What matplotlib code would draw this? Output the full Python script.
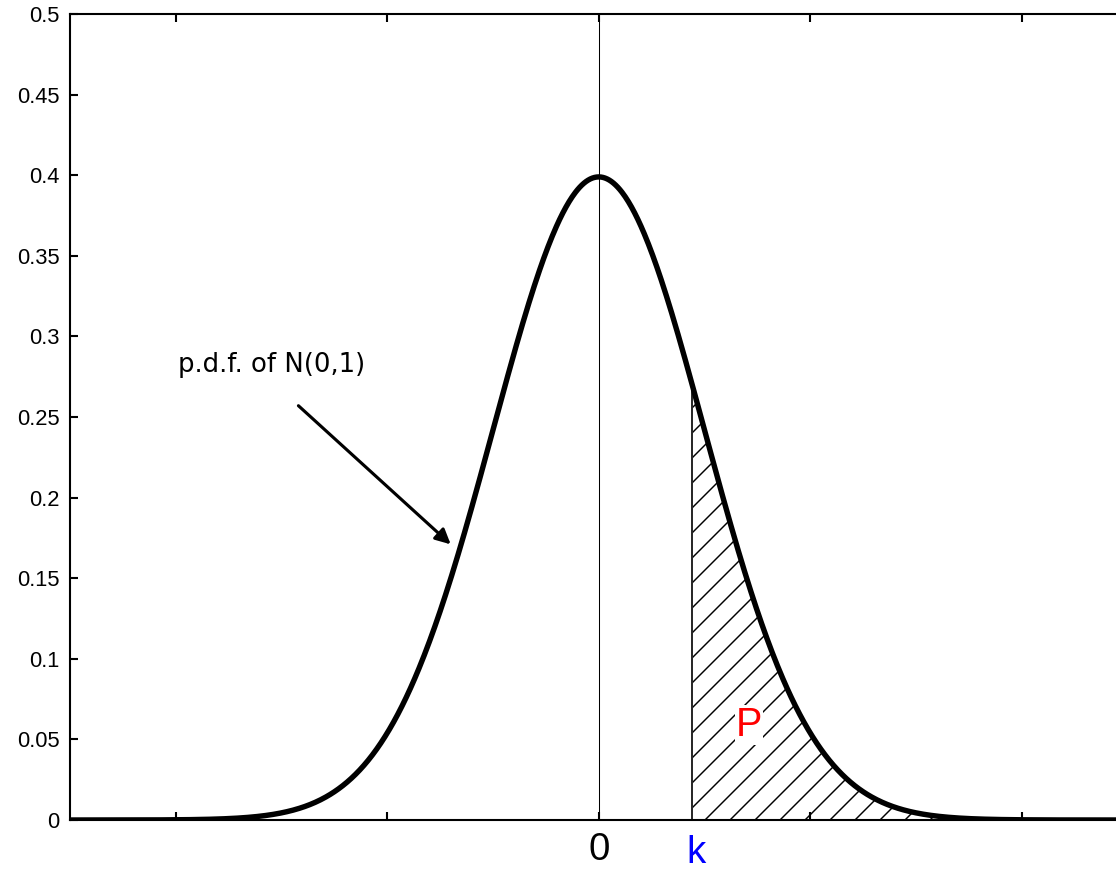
import numpy as np
import matplotlib
matplotlib.use("Agg")
import matplotlib.pyplot as plt
from matplotlib.transforms import blended_transform_factory

# distribution and marked point
mu = 0.0
sigma = 1.0
k = 0.88
x_range = (-5.0, 5.0)

yticks = [0, 0.05, 0.1, 0.15, 0.2, 0.25, 0.3, 0.35, 0.4, 0.45, 0.5]
ytick_labels = ["0", "0.05", "0.1", "0.15", "0.2", "0.25", "0.3", "0.35", "0.4", "0.45", "0.5"]
xticks = [-4, -2, 0, 2, 4]
xtick_labels = ["", "", "0", "", ""]

curve_label = "p.d.f. of N(0,1)"
label_xy = (-3.98, 0.274)
arrow_tail = (-2.84, 0.257)
arrow_head = (-1.40, 0.171)
p_label_xy = (1.42, 0.059)

plt.rcParams["font.family"] = ["Liberation Sans", "DejaVu Sans"]
plt.rcParams["hatch.linewidth"] = 0.7

x = np.linspace(x_range[0], x_range[1], 1001)
pdf = np.exp(-0.5 * ((x - mu) / sigma) ** 2) / (sigma * np.sqrt(2 * np.pi))

fig = plt.figure(figsize=(7.44, 5.8), dpi=150)
ax = fig.add_axes([70 / 1116, 50 / 870, 1057.5 / 1116, 806 / 870])

# shaded tail beyond k
tail = x >= k
ax.fill_between(x[tail], 0, pdf[tail], facecolor="none", edgecolor="black",
                hatch="//", linewidth=0)
k_val = np.exp(-0.5 * ((k - mu) / sigma) ** 2) / (sigma * np.sqrt(2 * np.pi))
ax.plot([k, k], [0, k_val], color="black", lw=0.8)
ax.plot([0, 0], [0, 0.5], color="black", lw=0.5)

ax.plot(x, pdf, color="black", lw=2.6, solid_capstyle="round")

ax.text(p_label_xy[0], p_label_xy[1], "P", color="red", fontsize=19,
        ha="center", va="center",
        bbox=dict(facecolor="white", edgecolor="none", pad=0.5))

ax.text(label_xy[0], label_xy[1], curve_label, fontsize=12.5, ha="left", va="bottom",
        family=["DejaVu Sans"])
ax.annotate("", xy=arrow_head, xytext=arrow_tail,
            arrowprops=dict(arrowstyle="-|>", color="black", lw=1.5,
                            mutation_scale=15, shrinkA=0, shrinkB=0))

ax.set_xlim(*x_range)
ax.set_ylim(0, 0.5)
ax.set_yticks(yticks)
ax.set_yticklabels(ytick_labels, fontsize=10.5)
ax.set_xticks(xticks)
ax.set_xticklabels(xtick_labels, fontsize=18.5)
ax.tick_params(axis="both", direction="in", length=4, width=1,
               top=True, right=True, pad=5)
ax.tick_params(axis="x", pad=6)
for s in ax.spines.values():
    s.set_linewidth(1)

trans = blended_transform_factory(ax.transData, ax.transAxes)
ax.text(k + 0.04, -0.019, "k", color="blue", fontsize=18.5, ha="center", va="top",
        transform=trans)

fig.savefig("out.png", dpi=150)
